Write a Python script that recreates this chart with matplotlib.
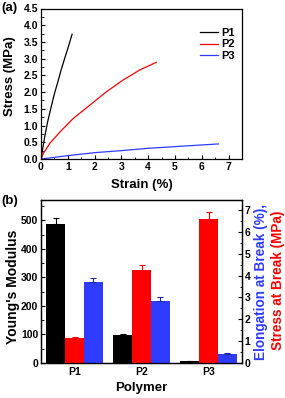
import numpy as np
import matplotlib
matplotlib.use('Agg')
import matplotlib.pyplot as plt
from matplotlib.ticker import MultipleLocator

plt.rcParams['font.family'] = ['Liberation Sans', 'DejaVu Sans']
plt.rcParams['font.weight'] = 'bold'
plt.rcParams['axes.labelweight'] = 'bold'

#------------------------------------------------------
# data
#------------------------------------------------------
# (a) stress-strain curves
p1_strain = [0, 0.02, 0.14, 0.25, 0.38, 0.5, 0.63, 0.75, 0.88, 1.0, 1.16]
p1_stress = [0, 0.1, 0.67, 1.12, 1.56, 1.95, 2.31, 2.66, 3.0, 3.3, 3.73]
p2_strain = [0, 0.09, 0.33, 0.71, 1.2, 1.82, 2.44, 3.06, 3.68, 4.30]
p2_stress = [0, 0.17, 0.47, 0.81, 1.21, 1.61, 2.01, 2.36, 2.66, 2.89]
p3_strain = [0, 1, 2, 3, 4, 5, 6, 6.62]
p3_stress = [0, 0.1, 0.19, 0.25, 0.32, 0.37, 0.42, 0.45]
curve_names = ['P1', 'P2', 'P3']

# (b) bars
polymers = ['P1', 'P2', 'P3']
modulus = [486, 98, 8]
modulus_err = [23, 4, 0]
stress_break = [1.13, 4.25, 6.57]      # red bars
stress_break_err = [0.08, 0.24, 0.35]
elong_break = [3.72, 2.85, 0.41]       # blue bars
elong_break_err = [0.18, 0.15, 0.06]

blue = '#2f3cff'
red = '#ff0000'
tsize = 7.5
lsize = 9.5

fig = plt.figure(figsize=(2.85, 3.98), dpi=100)

#------------------------------------------------------
# (a)
#------------------------------------------------------
ax1 = fig.add_axes([41/285, 1-159/398, 201/285, 150.5/398])
ax1.plot(p1_strain, p1_stress, color='black', lw=0.9, label=curve_names[0])
ax1.plot(p2_strain, p2_stress, color=red, lw=0.9, label=curve_names[1])
ax1.plot(p3_strain, p3_stress, color=blue, lw=0.9, label=curve_names[2])
ax1.set_xlim(0, 7.5)
ax1.set_ylim(0, 4.5)
ax1.xaxis.set_major_locator(MultipleLocator(1))
ax1.xaxis.set_minor_locator(MultipleLocator(0.5))
ax1.yaxis.set_major_locator(MultipleLocator(0.5))
ax1.yaxis.set_minor_locator(MultipleLocator(0.25))
ax1.set_xticks(np.arange(0, 8))
ax1.tick_params(which='both', direction='in', labelsize=tsize, pad=2)
ax1.tick_params(which='major', length=3, width=0.8)
ax1.tick_params(which='minor', length=1.8, width=0.6)
ax1.set_xlabel('Strain (%)', fontsize=lsize)
ax1.set_ylabel('Stress (MPa)', fontsize=lsize)
ax1.xaxis.set_label_coords(0.5, -0.135)
ax1.yaxis.set_label_coords(-0.125, 0.55)
for s in ax1.spines.values():
    s.set_linewidth(0.9)
leg = ax1.legend(loc='upper left', bbox_to_anchor=(0.765, 0.905), frameon=False,
                 fontsize=8, handlelength=1.6, handletextpad=0.3,
                 labelspacing=0.1, borderpad=0)
fig.text(0.005, 1-8/398, '(a)', fontsize=9.5, fontweight='bold', va='center', ha='left')

#------------------------------------------------------
# (b)
#------------------------------------------------------
ax2 = fig.add_axes([41/285, 1-363/398, 201/285, 163/398])
ax3 = ax2.twinx()
x = np.arange(1, 4)
w = 0.28
ax2.bar(x-w, modulus, width=w, color='black',
        yerr=[np.zeros(3), modulus_err], ecolor='black', capsize=2.5,
        error_kw={'elinewidth': 0.8, 'capthick': 0.8})
ax3.bar(x, stress_break, width=w, color=red,
        yerr=[np.zeros(3), stress_break_err], ecolor=red, capsize=2.5,
        error_kw={'elinewidth': 0.8, 'capthick': 0.8})
ax3.bar(x+w, elong_break, width=w, color=blue,
        yerr=[np.zeros(3), elong_break_err], ecolor='#1a2a99', capsize=2.5,
        error_kw={'elinewidth': 0.8, 'capthick': 0.8})
ax2.set_xlim(0.5, 3.5)
ax2.set_ylim(0, 571)
ax3.set_ylim(0, 7.46)
ax2.set_xticks(x)
ax2.set_xticklabels(polymers)
ax2.yaxis.set_major_locator(MultipleLocator(100))
ax2.yaxis.set_minor_locator(MultipleLocator(50))
ax3.yaxis.set_major_locator(MultipleLocator(1))
ax3.yaxis.set_minor_locator(MultipleLocator(0.5))
ax2.tick_params(axis='y', which='both', direction='in', labelsize=tsize, pad=2)
ax2.tick_params(axis='y', which='major', length=3, width=0.8)
ax2.tick_params(axis='y', which='minor', length=1.8, width=0.6)
ax2.tick_params(axis='x', length=0, labelsize=tsize, pad=3)
ax3.tick_params(which='both', direction='in', labelsize=tsize, pad=2)
ax3.tick_params(which='major', length=3, width=0.8)
ax3.tick_params(which='minor', length=1.8, width=0.6)
ax2.set_xlabel('Polymer', fontsize=lsize)
ax2.set_ylabel("Young's Modulus", fontsize=10)
ax2.xaxis.set_label_coords(0.5, -0.115)
ax2.yaxis.set_label_coords(-0.105, 0.47)
for a in (ax2, ax3):
    for s in a.spines.values():
        s.set_linewidth(0.9)
fig.text(261/285, 1-282/398, 'Elongation at Break (%),', color=blue, fontsize=9.8,
         fontweight='bold', rotation=90, ha='center', va='center')
fig.text(278/285, 1-280/398, 'Stress at Break (MPa)', color=red, fontsize=9.8,
         fontweight='bold', rotation=90, ha='center', va='center')
fig.text(0.005, 1-201/398, '(b)', fontsize=9.5, fontweight='bold', va='center', ha='left')

fig.savefig('out.png', dpi=100)
